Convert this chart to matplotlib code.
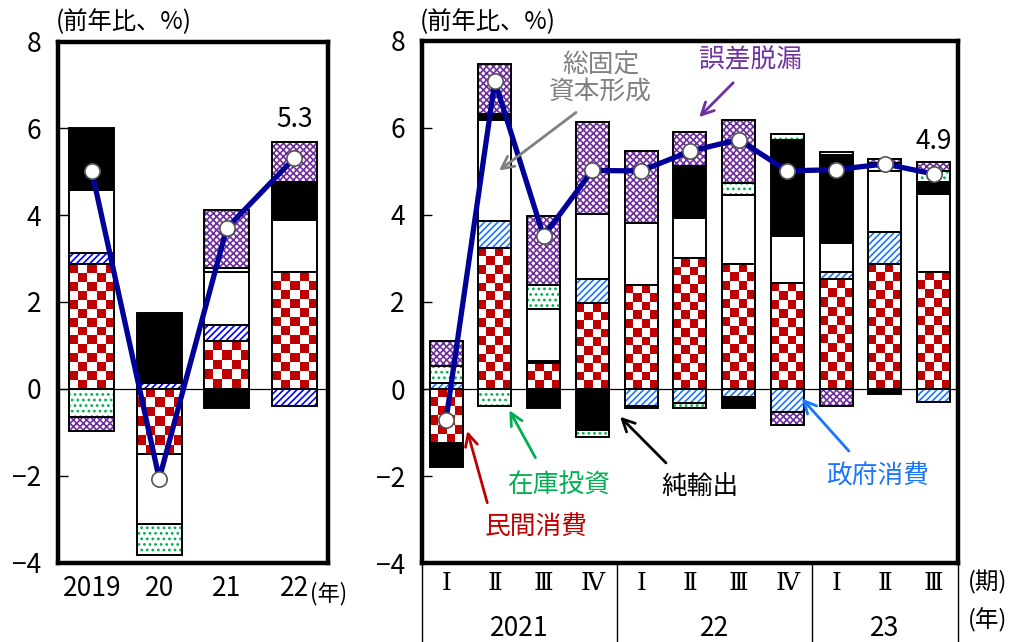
import numpy as np
import matplotlib
matplotlib.use("Agg")
import matplotlib.pyplot as plt
from matplotlib.colors import ListedColormap

plt.rcParams['font.family'] = ['Liberation Sans Narrow', 'Noto Sans CJK JP', 'DejaVu Sans']
plt.rcParams['hatch.linewidth'] = 1.2
JP = ['Noto Sans CJK JP', 'DejaVu Sans']
ROMAN = ['DejaVu Serif', 'Noto Sans CJK JP']

# annual data (前年比寄与度, %)
years = ['2019', '20', '21', '22']
y_priv = [2.87, -1.50, 1.11, 2.69]
y_gov = [0.26, 0.14, 0.35, -0.39]
y_gfcf = [1.44, -1.61, 1.23, 1.21]
y_netx = [1.43, 1.61, -0.44, 0.84]
y_inv = [-0.65, -0.72, 0.09, 0.03]
y_disc = [-0.33, 0.0, 1.35, 0.92]
y_total = [5.02, -2.07, 3.70, 5.31]

# quarterly data
quarters = ['Ⅰ', 'Ⅱ', 'Ⅲ', 'Ⅳ', 'Ⅰ', 'Ⅱ', 'Ⅲ', 'Ⅳ', 'Ⅰ', 'Ⅱ', 'Ⅲ']
q_years = ['2021', '22', '23']
q_priv = [-1.24, 3.25, 0.60, 1.97, 2.40, 3.00, 2.88, 2.44, 2.52, 2.88, 2.69]
q_gov = [0.14, 0.61, 0.04, 0.56, -0.38, -0.32, -0.18, -0.52, 0.17, 0.73, -0.29]
q_gfcf = [0.0, 2.31, 1.19, 1.49, 1.42, 0.92, 1.57, 1.08, 0.66, 1.40, 1.80]
q_netx = [-0.54, 0.15, -0.44, -0.94, -0.05, 1.21, -0.26, 2.21, 2.03, -0.11, 0.27]
q_inv = [0.40, -0.38, 0.57, -0.15, 0.0, -0.12, 0.28, 0.13, 0.06, 0.18, 0.24]
q_disc = [0.56, 1.15, 1.58, 2.11, 1.65, 0.78, 1.44, -0.30, -0.38, 0.09, 0.22]
q_total = [-0.70, 7.07, 3.51, 5.02, 5.01, 5.46, 5.73, 5.01, 5.04, 5.17, 4.94]

RED = '#c00000'
checker_cmap = ListedColormap(['white', RED])


def draw_checker(ax, x0, y0, w, h, pxx, pxy, cell=9.0):
    nx = max(1, int(round(w * pxx / cell)))
    ny = max(1, int(round(abs(h) * pxy / cell)))
    arr = np.add.outer(np.arange(ny), np.arange(nx)) % 2
    ax.imshow(arr, extent=(x0, x0 + w, y0 + h, y0), cmap=checker_cmap,
              interpolation='nearest', aspect='auto', zorder=2)


def draw_panel(ax, comps, total, width, blue, pxx, pxy):
    n = len(total)
    x = np.arange(n)
    pos = np.zeros(n)
    neg = np.zeros(n)
    styles = {
        'priv': None,
        'gov': dict(fc='white', hc=blue, hatch='/////'),
        'gfcf': dict(fc='white', hc='white', hatch=None),
        'netx': dict(fc='black', hc='black', hatch=None),
        'inv': dict(fc='white', hc='#00b050', hatch='...'),
        'disc': dict(fc='white', hc='#7030a0', hatch='xxxxx'),
    }
    for key, vals in comps:
        v = np.array(vals)
        bottom = np.where(v >= 0, pos, neg)
        m = v != 0
        st = styles[key]
        if st is None:
            for xi, bi, vi in zip(x[m], bottom[m], v[m]):
                draw_checker(ax, xi - width / 2, bi, width, vi, pxx, pxy)
        else:
            ax.bar(x[m], v[m], width, bottom=bottom[m], facecolor=st['fc'],
                   edgecolor=st['hc'], hatch=st['hatch'], linewidth=0, zorder=2)
        ax.bar(x[m], v[m], width, bottom=bottom[m], facecolor='none',
               edgecolor='black', linewidth=1.4, zorder=3)
        pos += np.where(v > 0, v, 0)
        neg += np.where(v < 0, v, 0)
    ax.axhline(0, color='black', linewidth=0.9, zorder=1)
    ax.plot(x, total, color='#000099', linewidth=3.8, zorder=4,
            marker='o', markersize=11, markerfacecolor='white',
            markeredgecolor='#555555', markeredgewidth=1.2)
    ax.set_xlim(-0.5, n - 0.5)
    ax.set_ylim(-4, 8)
    ax.set_yticks([-4, -2, 0, 2, 4, 6, 8])
    ax.tick_params(axis='y', direction='in', length=7, width=1, labelsize=19, pad=12)
    for s in ax.spines.values():
        s.set_linewidth(3.2)


fig = plt.figure(figsize=(10.11, 6.42), dpi=100)
W, H = 1011, 642
axL = fig.add_axes([58 / W, (H - 562.5) / H, 270 / W, 521 / H])
axR = fig.add_axes([421.7 / W, (H - 563.3) / H, 536.3 / W, 522.6 / H])

comps_y = [('priv', y_priv), ('gov', y_gov), ('gfcf', y_gfcf),
           ('netx', y_netx), ('inv', y_inv), ('disc', y_disc)]
comps_q = [('priv', q_priv), ('gov', q_gov), ('gfcf', q_gfcf),
           ('netx', q_netx), ('inv', q_inv), ('disc', q_disc)]

draw_panel(axL, comps_y, y_total, 0.67, '#0000ff', 270 / 4, 521 / 12)
draw_panel(axR, comps_q, q_total, 0.68, '#1a75ff', 536.3 / 11, 522.6 / 12)

# left x labels
axL.set_xticks(np.arange(len(years)), years)
axL.tick_params(axis='x', length=0, labelsize=19, pad=9)
fig.text(329 / W, 1 - 594 / H, '(年)', fontsize=16, family=JP, ha='center', va='center')

# right x labels (table style)
axR.set_xticks([])
for i, q in enumerate(quarters):
    axR.text(i, -0.038, q, transform=axR.get_xaxis_transform(), ha='center',
             va='center', fontsize=18, family=ROMAN)
for j, yl in enumerate(q_years):
    start = j * 4
    end = min(start + 4, len(quarters))
    axR.text((start + end - 1) / 2, -0.124, yl, transform=axR.get_xaxis_transform(),
             ha='center', va='center', fontsize=19)
for xs in [-0.5, 3.5, 7.5, 10.5]:
    axR.plot([xs, xs], [0, -0.16], transform=axR.get_xaxis_transform(),
             color='black', linewidth=1, clip_on=False)
fig.text(988 / W, 1 - 582 / H, '(期)', fontsize=17, family=JP, ha='center', va='center')
fig.text(988 / W, 1 - 620 / H, '(年)', fontsize=17, family=JP, ha='center', va='center')

# unit labels
fig.text(124 / W, 1 - 22 / H, '(前年比、%)', fontsize=17.5, family=JP, ha='center', va='center')
fig.text(488 / W, 1 - 22 / H, '(前年比、%)', fontsize=17.5, family=JP, ha='center', va='center')

# last value labels
axL.text(len(y_total) - 1, y_total[-1] + 0.9, f'{y_total[-1]:.1f}', ha='center',
         va='center', fontsize=19)
axR.text(len(q_total) - 1, q_total[-1] + 0.75, f'{q_total[-1]:.1f}', ha='center',
         va='center', fontsize=19)

# component annotations
ann = [
    ('民間消費', RED, (1.84, -3.17), (0.42, -0.90), (0.86, -2.67)),
    ('在庫投資', '#00b050', (2.30, -2.23), (1.27, -0.43), (1.86, -1.63)),
    ('純輸出', 'black', (5.21, -2.25), (3.53, -0.59), (4.55, -1.74)),
    ('政府消費', '#1a75ff', (8.86, -2.02), (7.26, -0.17), (8.30, -1.47)),
    ('総固定\n資本形成', '#808080', (3.17, 7.13), (1.04, 4.98), (2.71, 6.39)),
    ('誤差脱漏', '#7030a0', (6.24, 7.56), (5.15, 6.20), (5.93, 7.08)),
]
for txt, col, tpos, head, tail in ann:
    axR.text(tpos[0], tpos[1], txt, color=col, fontsize=18.5, family=JP,
             ha='center', va='center', linespacing=1.0, zorder=5)
    axR.annotate('', xy=head, xytext=tail,
                 arrowprops=dict(arrowstyle='->', color=col, lw=2,
                                 mutation_scale=22), zorder=5)

fig.savefig('out.png', dpi=100)
